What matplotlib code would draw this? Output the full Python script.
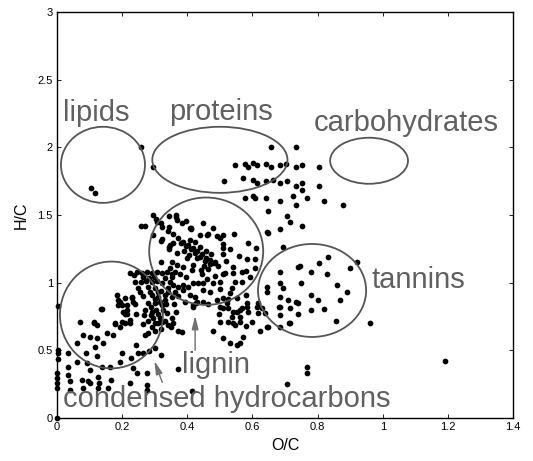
import matplotlib
matplotlib.use("Agg")
import matplotlib.pyplot as plt
from matplotlib.patches import Ellipse

plt.rcParams['font.family'] = ['Liberation Sans', 'DejaVu Sans']

# --- data (O/C, H/C) ---
top_pts = [(0.104, 1.70), (0.117, 1.665), (0.258, 2.003), (0.294, 1.857),
           (0.657, 2.001), (0.734, 2.001), (0.547, 1.868), (0.577, 1.875), (0.585, 1.857),
           (0.603, 1.882), (0.615, 1.868), (0.641, 1.875), (0.657, 1.855), (0.685, 1.868),
           (0.703, 1.875), (0.734, 1.855), (0.751, 1.868), (0.805, 1.855),
           (0.513, 1.747), (0.570, 1.776), (0.603, 1.759), (0.615, 1.735), (0.641, 1.747),
           (0.662, 1.759), (0.685, 1.735), (0.705, 1.747), (0.734, 1.715), (0.751, 1.735),
           (0.753, 1.685), (0.805, 1.715),
           (0.577, 1.624), (0.603, 1.643), (0.608, 1.624), (0.641, 1.624), (0.685, 1.604),
           (0.726, 1.643), (0.734, 1.574), (0.769, 1.624), (0.821, 1.604), (0.879, 1.574),
           (0.649, 1.532), (0.705, 1.495), (0.715, 1.446), (0.753, 1.419), (0.685, 1.395),
           (0.647, 1.370), (0.695, 1.262), (0.741, 1.118)]

lignin_pts = [(0.258, 1.419), (0.270, 1.419), (0.294, 1.50), (0.303, 1.468), (0.319, 1.443),
              (0.323, 1.414), (0.344, 1.493), (0.345, 1.414), (0.364, 1.483), (0.367, 1.463),
              (0.383, 1.443), (0.396, 1.458), (0.411, 1.402), (0.447, 1.443), (0.478, 1.402),
              (0.365, 1.500), (0.306, 1.451), (0.342, 1.384), (0.408, 1.402), (0.439, 1.353),
              (0.465, 1.360), (0.511, 1.353), (0.511, 1.286), (0.543, 1.358), (0.587, 1.291),
              (0.611, 1.254), (0.296, 1.353), (0.321, 1.321), (0.318, 1.155), (0.345, 1.266),
              (0.345, 1.247), (0.580, 1.089), (0.608, 1.173), (0.541, 1.114), (0.516, 1.069),
              (0.500, 1.008), (0.319, 1.308), (0.347, 1.279),
              (0.410, 1.397), (0.357, 1.358), (0.372, 1.328), (0.388, 1.303), (0.403, 1.279),
              (0.417, 1.254), (0.429, 1.234), (0.444, 1.210), (0.457, 1.185), (0.470, 1.168),
              (0.482, 1.143), (0.495, 1.126), (0.408, 1.316), (0.424, 1.298), (0.439, 1.266),
              (0.457, 1.234), (0.472, 1.210), (0.461, 1.353), (0.511, 1.254), (0.511, 1.210),
              (0.584, 1.175), (0.608, 1.106), (0.644, 1.372), (0.367, 1.217), (0.398, 1.180),
              (0.418, 1.131), (0.388, 1.118), (0.352, 1.044), (0.414, 1.094), (0.441, 1.094),
              (0.444, 1.062), (0.485, 1.155), (0.485, 1.052), (0.511, 1.062), (0.541, 1.069),
              (0.567, 1.081), (0.547, 1.008), (0.536, 0.958), (0.567, 1.003), (0.593, 1.044),
              (0.531, 0.922), (0.552, 0.889), (0.526, 0.880), (0.511, 0.885), (0.580, 0.909),
              (0.582, 0.848), (0.567, 0.811), (0.552, 0.781), (0.526, 0.811), (0.500, 0.823),
              (0.490, 0.872), (0.357, 0.983), (0.372, 0.970), (0.388, 0.983), (0.403, 0.970),
              (0.418, 0.996), (0.434, 0.996), (0.449, 0.996), (0.480, 0.996), (0.362, 0.933),
              (0.388, 0.946), (0.408, 0.909), (0.424, 0.897), (0.449, 0.946), (0.393, 0.860),
              (0.418, 0.835), (0.429, 0.854), (0.618, 0.848), (0.628, 0.811), (0.639, 0.774),
              (0.644, 0.970), (0.644, 0.933), (0.685, 1.081), (0.685, 0.996), (0.685, 0.897),
              (0.685, 0.823), (0.685, 0.761), (0.710, 0.872), (0.357, 1.291), (0.500, 1.328),
              (0.490, 1.347), (0.352, 1.155), (0.367, 1.131), (0.347, 1.106), (0.362, 1.081),
              (0.380, 1.290), (0.395, 1.270), (0.410, 1.250), (0.425, 1.220), (0.440, 1.190),
              (0.455, 1.160), (0.470, 1.140), (0.390, 1.230), (0.405, 1.205), (0.430, 1.180),
              (0.450, 1.120), (0.465, 1.100), (0.378, 1.060), (0.395, 1.040), (0.460, 1.030),
              (0.520, 1.160), (0.530, 1.250), (0.560, 1.200), (0.470, 0.930), (0.500, 0.950)]

condensed_pts = [(0.224, 1.069), (0.236, 1.057), (0.245, 1.081), (0.262, 1.069), (0.275, 1.081),
                 (0.291, 1.069), (0.306, 1.081), (0.321, 1.069), (0.337, 1.081), (0.352, 1.062),
                 (0.239, 1.003), (0.258, 1.003), (0.272, 1.013), (0.291, 1.003), (0.306, 1.013),
                 (0.321, 0.996), (0.347, 1.003), (0.248, 0.963), (0.278, 0.970), (0.301, 0.958),
                 (0.319, 0.939), (0.342, 0.958), (0.291, 0.909), (0.311, 0.897), (0.332, 0.909),
                 (0.352, 0.897), (0.183, 0.909), (0.188, 0.872), (0.209, 0.885), (0.231, 0.889),
                 (0.188, 0.835), (0.214, 0.835), (0.239, 0.840), (0.301, 0.848), (0.321, 0.835),
                 (0.137, 0.806), (0.204, 0.781), (0.214, 0.766), (0.242, 0.766), (0.268, 0.761),
                 (0.291, 0.786), (0.311, 0.766), (0.337, 0.774), (0.002, 0.830), (0.071, 0.712),
                 (0.114, 0.712), (0.199, 0.712), (0.224, 0.724), (0.296, 0.737), (0.321, 0.712),
                 (0.352, 0.737), (0.193, 0.860), (0.199, 0.835), (0.229, 0.897), (0.234, 0.860),
                 (0.214, 0.798), (0.209, 0.769), (0.224, 0.700), (0.178, 0.700),
                 (0.285, 0.930), (0.300, 0.880), (0.315, 0.860), (0.330, 0.870), (0.280, 0.850),
                 (0.290, 0.820), (0.305, 0.800), (0.325, 0.800), (0.335, 0.840), (0.270, 0.800),
                 (0.280, 0.720), (0.310, 0.700), (0.330, 0.720), (0.300, 0.640), (0.320, 0.660),
                 (0.340, 0.690), (0.355, 0.700), (0.365, 0.780), (0.360, 0.840), (0.370, 0.900),
                 (0.265, 1.040), (0.283, 1.035), (0.298, 1.040), (0.330, 1.035), (0.255, 0.930),
                 (0.265, 0.900), (0.310, 0.930), (0.340, 0.930), (0.290, 0.760), (0.315, 0.740)]

low_pts = [(0.114, 0.700), (0.122, 0.687), (0.178, 0.695), (0.193, 0.675), (0.209, 0.700),
           (0.265, 0.695), (0.291, 0.675), (0.301, 0.704), (0.081, 0.613), (0.101, 0.601),
           (0.122, 0.589), (0.153, 0.630), (0.173, 0.613), (0.270, 0.613), (0.280, 0.626),
           (0.060, 0.552), (0.088, 0.483), (0.117, 0.527), (0.122, 0.458), (0.142, 0.552),
           (0.199, 0.478), (0.242, 0.540), (0.248, 0.478), (0.227, 0.441), (0.265, 0.478),
           (0.283, 0.497), (0.301, 0.515), (0.319, 0.466), (0.033, 0.478), (0.060, 0.416),
           (0.091, 0.404), (0.137, 0.379), (0.163, 0.379), (0.193, 0.416), (0.234, 0.367),
           (0.245, 0.330), (0.275, 0.330), (0.033, 0.318), (0.040, 0.276), (0.076, 0.281),
           (0.096, 0.276), (0.101, 0.256), (0.127, 0.305), (0.130, 0.256), (0.166, 0.281),
           (0.224, 0.256), (0.275, 0.244), (0.040, 0.207), (0.081, 0.219), (0.127, 0.219),
           (0.156, 0.219), (0.0, 0.330), (0.0, 0.293), (0.0, 0.256), (0.0, 0.219),
           (0.002, 0.503), (0.002, 0.478), (0.002, 0.434), (0.033, 0.379), (0.101, 0.355),
           (0.135, 0.803), (0.275, 0.207), (0.0, 0.0),
           (0.372, 0.360), (0.414, 0.202), (0.480, 0.643), (0.511, 0.589), (0.531, 0.557),
           (0.552, 0.540), (0.562, 0.552), (0.570, 0.596), (0.498, 0.769), (0.509, 0.811),
           (0.521, 0.852), (0.541, 0.786), (0.536, 0.744), (0.562, 0.749), (0.562, 0.798),
           (0.582, 0.818), (0.587, 0.786), (0.547, 0.687), (0.580, 0.680), (0.623, 0.643),
           (0.613, 0.823), (0.618, 0.774), (0.647, 0.675), (0.417, 0.823), (0.427, 0.848),
           (0.449, 0.860), (0.465, 0.843), (0.644, 0.670), (0.685, 0.675), (0.715, 0.700),
           (0.349, 0.675), (0.372, 0.643), (0.383, 0.638), (0.500, 0.712), (0.526, 0.712),
           (0.541, 0.700), (0.562, 0.712), (0.598, 0.712), (0.767, 0.379), (0.767, 0.335),
           (0.705, 0.251), (0.821, 0.803), (0.712, 0.704), (0.680, 0.818), (0.734, 0.860)]

tannin_pts = [(0.831, 1.192), (0.805, 1.143), (0.746, 1.123), (0.780, 1.081), (0.695, 0.958),
              (0.780, 0.909), (0.715, 0.811), (0.741, 0.848), (0.800, 0.870), (0.855, 0.720),
              (0.870, 0.870), (0.890, 0.930), (0.920, 1.150), (0.900, 1.110), (0.960, 0.700),
              (0.830, 1.060), (0.750, 1.000), (0.780, 0.800), (0.860, 0.980), (0.740, 0.770),
              (1.190, 0.420)]

# regions: centre O/C, centre H/C, width, height
regions = ['lipids', 'proteins', 'carbohydrates', 'lignin', 'condensed', 'tannins']
reg_x = [0.141, 0.500, 0.958, 0.458, 0.167, 0.783]
reg_y = [1.870, 1.907, 1.900, 1.232, 0.761, 0.942]
reg_w = [0.258, 0.415, 0.239, 0.350, 0.316, 0.332]
reg_h = [0.562, 0.488, 0.340, 0.793, 0.789, 0.687]

labels = ['lipids', 'proteins', 'carbohydrates', 'tannins', 'lignin', 'condensed hydrocarbons']
label_x = [0.120, 0.504, 1.072, 1.108, 0.488, 0.522]
label_y = [2.250, 2.262, 2.177, 1.020, 0.392, 0.140]

fig = plt.figure(figsize=(5.33, 4.61), dpi=100)
ax = fig.add_axes([0.107, 0.0933, 0.8555, 0.881])

allpts = top_pts + lignin_pts + condensed_pts + low_pts + tannin_pts
ax.scatter([p[0] for p in allpts], [p[1] for p in allpts], s=17, c='black',
           linewidths=0, zorder=3, clip_on=False)

for i in range(len(regions)):
    ax.add_patch(Ellipse((reg_x[i], reg_y[i]), reg_w[i], reg_h[i], fill=False,
                         edgecolor='#555555', lw=1.3, zorder=4))

for i in range(len(labels)):
    ax.text(label_x[i], label_y[i], labels[i], ha='center', va='center',
            fontsize=21, color='#606060', zorder=5)

# arrows
ax.annotate('', xy=(0.424, 0.776), xytext=(0.424, 0.48),
            arrowprops=dict(arrowstyle='-|>,head_length=0.8,head_width=0.2',
                            color='#707070', lw=1))
ax.annotate('', xy=(0.296, 0.441), xytext=(0.326, 0.244),
            arrowprops=dict(arrowstyle='-|>,head_length=0.8,head_width=0.2',
                            color='#707070', lw=1))

ax.set_xlim(0, 1.4)
ax.set_ylim(0, 3)
ax.set_xticks([0, 0.2, 0.4, 0.6, 0.8, 1, 1.2, 1.4])
ax.set_xticklabels(['0', '0.2', '0.4', '0.6', '0.8', '1', '1.2', '1.4'])
ax.set_yticks([0, 0.5, 1, 1.5, 2, 2.5, 3])
ax.set_yticklabels(['0', '0.5', '1', '1.5', '2', '2.5', '3'])
ax.tick_params(direction='in', length=3, width=0.6, labelsize=8, top=True, right=True, pad=3)
for s in ax.spines.values():
    s.set_linewidth(1.0)
ax.set_xlabel('O/C', fontsize=11.5, labelpad=4)
ax.set_ylabel('H/C', fontsize=11.5, labelpad=6)

fig.savefig('out.png', dpi=100)
